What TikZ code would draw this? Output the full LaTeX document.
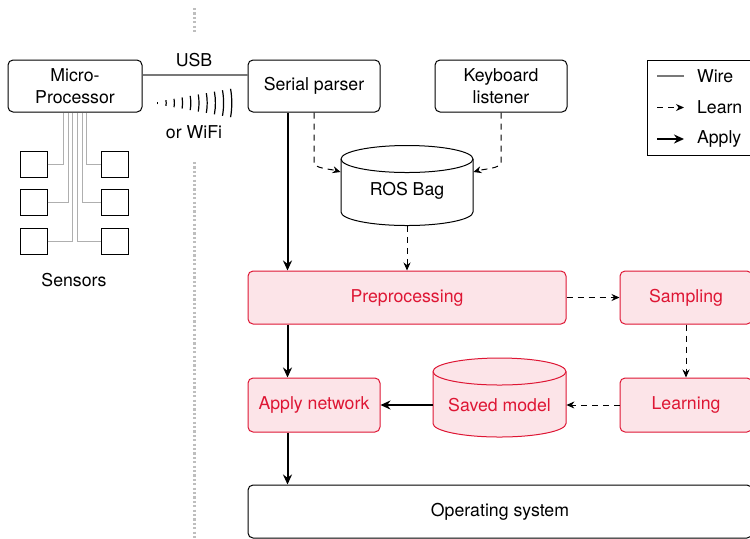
\documentclass[tikz,border=0pt]{standalone}
\usepackage{fontspec}
\setmainfont{TeX Gyre Heros}
\usetikzlibrary{arrows.meta,calc}
\definecolor{redc}{RGB}{222,22,52}
\definecolor{pinkf}{RGB}{252,228,232}
\definecolor{wireg}{RGB}{120,120,120}
\definecolor{sensg}{RGB}{175,175,175}
\definecolor{dotg}{RGB}{190,190,190}
\begin{document}
\begin{tikzpicture}[x=0.5pt,y=-0.5pt,
  font=\fontsize{8.85}{11}\selectfont,
  box/.style={draw=black,line width=0.5pt,rounded corners=2.5pt,fill=white,minimum width=66pt,minimum height=26pt,inner sep=0pt,align=center},
  redbox/.style={box,draw=redc,fill=pinkf,text=redc},
  sensor/.style={draw=black,line width=0.5pt,minimum width=13.5pt,minimum height=13pt,inner sep=0pt},
  learn/.style={line width=0.5pt,dashed,dash pattern=on 3pt off 2.5pt,-{Stealth[length=4pt,width=3.5pt]}},
  apply/.style={line width=1pt,-{Stealth[length=5pt,width=4.5pt]}},
  wire/.style={draw=wireg,line width=0.6pt},
  sw/.style={draw=sensg,line width=0.5pt}]
\clip (0,0) rectangle (750,538);
% dotted separator
\draw[dotg,line width=1.5pt,dash pattern=on 1.1pt off 1.1pt] (194,8) -- (194,33);
\draw[dotg,line width=1.5pt,dash pattern=on 1.1pt off 1.1pt] (194,162) -- (194,538);
% micro processor
\node[box,minimum width=67pt] (micro) at (75,86) {Micro-\\Processor};
\node[box] (serial) at (314,86) {Serial parser};
\node[box] (kbd) at (501,86) {Keyboard\\listener};
% USB
\draw[wire] ([yshift=5.5pt]micro.east) -- ([yshift=5.5pt]serial.west);
\node (usb) at (194,60) {USB};
\node (wifi) at (194,132) {or WiFi};
\foreach \i in {0,...,9}{
  \draw[line width=0.6pt] (150,103) ++(-10:{4pt+\i*4.1pt}) arc[start angle=-10,end angle=10,radius={4pt+\i*4.1pt}];
}
% sensors
\node[sensor] (sl1) at (33.5,164) {};
\node[sensor] (sl2) at (33.5,202.5) {};
\node[sensor] (sl3) at (33.5,241) {};
\node[sensor] (sr1) at (114.5,164) {};
\node[sensor] (sr2) at (114.5,202.5) {};
\node[sensor] (sr3) at (114.5,241) {};
\draw[sw] (sl1.east) -| ([xshift=-5.75pt]micro.south);
\draw[sw] (sl2.east) -| ([xshift=-3.5pt]micro.south);
\draw[sw] (sl3.east) -| ([xshift=-1.25pt]micro.south);
\draw[sw] (sr3.west) -| ([xshift=1.25pt]micro.south);
\draw[sw] (sr2.west) -| ([xshift=3.5pt]micro.south);
\draw[sw] (sr1.west) -| ([xshift=5.75pt]micro.south);
\node (sensors) at (74,280) {Sensors};
% ROS bag cylinder
\draw[line width=0.5pt,fill=white] (341,159) -- (341,212) arc[start angle=180,end angle=360,x radius=33pt,y radius=6.75pt] -- (473,159) arc[start angle=0,end angle=180,x radius=33pt,y radius=6.75pt] -- cycle;
\draw[line width=0.5pt] (341,159) arc[start angle=180,end angle=360,x radius=33pt,y radius=6.75pt];
\node[minimum width=66pt,minimum height=34.5pt,inner sep=0pt] (rosbag) at (407,191) {ROS Bag};
% saved model cylinder
\draw[line width=0.5pt,draw=redc,fill=pinkf] (433,371.5) -- (433,423.5) arc[start angle=180,end angle=360,x radius=33.25pt,y radius=6.75pt] -- (566,371.5) arc[start angle=0,end angle=180,x radius=33.25pt,y radius=6.75pt] -- cycle;
\draw[line width=0.5pt,draw=redc] (433,371.5) arc[start angle=180,end angle=360,x radius=33.25pt,y radius=6.75pt];
\node[minimum width=66.5pt,minimum height=32pt,inner sep=0pt,text=redc] (saved) at (499.5,405) {Saved model};
% red boxes
\node[redbox,minimum width=159pt,minimum height=26.5pt] (pre) at (407,297.5) {Preprocessing};
\node[redbox,minimum height=26.5pt] (samp) at (686,297.5) {Sampling};
\node[redbox,minimum height=27pt] (learnb) at (686,405) {Learning};
\node[redbox,minimum height=27pt] (applyb) at (314,405) {Apply network};
\node[box,minimum width=252pt,minimum height=26.5pt] (os) at (500,511.5) {Operating system};
% connectors
\draw[learn] (serial.south) -- ++(0,50) .. controls +(0,6) and +(-10,-3) .. ([yshift=9.5pt]rosbag.west);
\draw[learn] (kbd.south) -- ++(0,50) .. controls +(0,6) and +(10,-3) .. ([yshift=9.5pt]rosbag.east);
\draw[learn] (rosbag.south) -- (rosbag.south |- pre.north);
\draw[apply] ([xshift=20pt]serial.south west) -- ([xshift=20pt]pre.north west);
\draw[apply] ([xshift=20pt]pre.south west) -- ([xshift=20pt]applyb.north west);
\draw[apply] ([xshift=20pt]applyb.south west) -- ([xshift=20pt]os.north west);
\draw[learn] (pre.east) -- (samp.west);
\draw[learn] (samp.south) -- (learnb.north);
\draw[learn] (learnb.west) -- (saved.east);
\draw[apply] (saved.west) -- (applyb.east);
% legend
\draw[line width=0.5pt] (647,60) rectangle (760,155);
\node[anchor=west] (lwire) at (690,76) {Wire};
\node[anchor=west] (llearn) at (690,107.5) {Learn};
\node[anchor=west] (lapply) at (690,139) {Apply};
\draw[wire] ([xshift=-3pt]lwire.west) -- ([xshift=-16.5pt]lwire.west);
\draw[learn] ([xshift=-16.5pt]llearn.west) -- ([xshift=-3pt]llearn.west);
\draw[apply] ([xshift=-16.5pt]lapply.west) -- ([xshift=-3pt]lapply.west);
\end{tikzpicture}
\end{document}
